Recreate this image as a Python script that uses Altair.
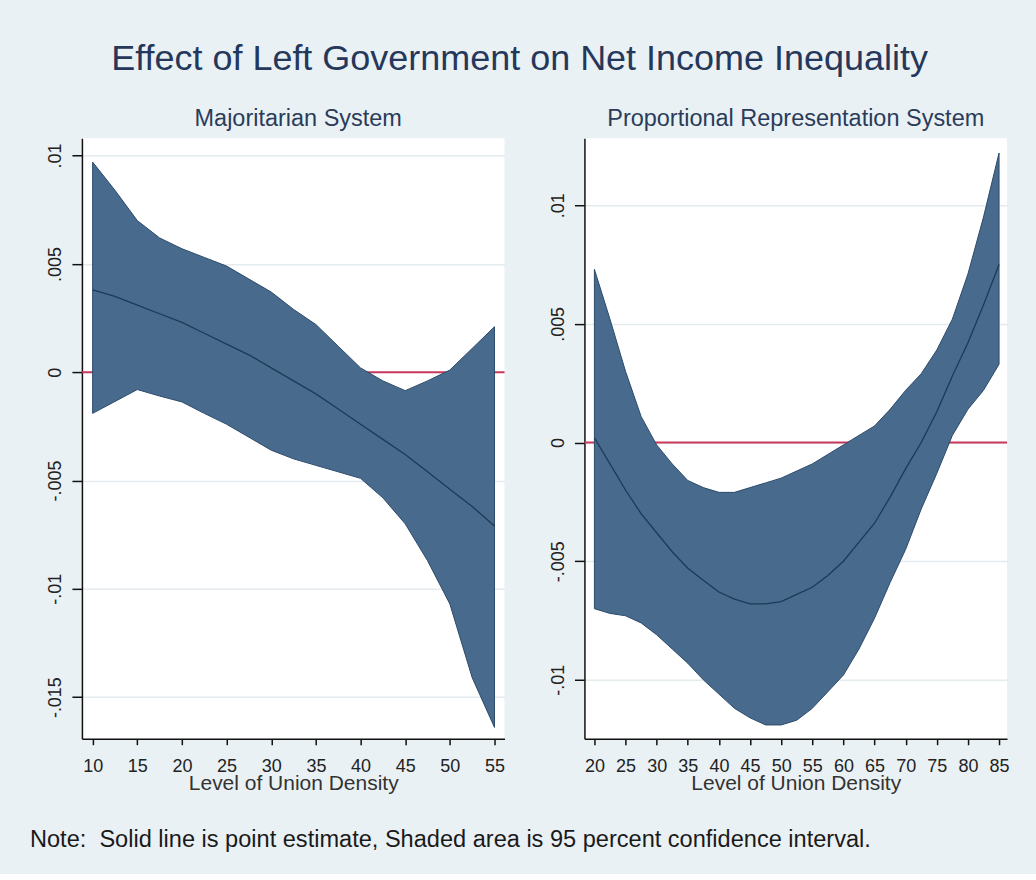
import altair as alt
import pandas as pd

# ---------------- data ----------------
maj_x = [10, 12.5, 15, 17.5, 20, 22.5, 25, 27.5, 30, 32.5, 35, 37.5, 40, 42.5, 45, 47.5, 50, 52.5, 55]
maj_upper = [0.0097, 0.0084, 0.0070, 0.0062, 0.0057, 0.0053, 0.0049, 0.0043, 0.0037, 0.0029,
             0.0022, 0.0012, 0.0002, -0.0004, -0.00085, -0.0004, 0.0001, 0.0011, 0.0021]
maj_lower = [-0.0019, -0.00135, -0.0008, -0.0011, -0.00137, -0.0019, -0.0024, -0.0030, -0.0036, -0.0040,
             -0.0043, -0.0046, -0.0049, -0.0058, -0.0070, -0.0087, -0.0107, -0.0141, -0.0164]
maj_est = [0.0038, 0.0035, 0.0031, 0.0027, 0.0023, 0.0018, 0.0013, 0.0008, 0.0002, -0.0004,
           -0.0010, -0.0017, -0.0024, -0.0031, -0.0038, -0.0046, -0.0054, -0.0062, -0.0071]

pr_x = [20, 22.5, 25, 27.5, 30, 32.5, 35, 37.5, 40, 42.5, 45, 47.5, 50, 52.5, 55, 57.5, 60,
        62.5, 65, 67.5, 70, 72.5, 75, 77.5, 80, 82.5, 85]
pr_upper = [0.0073, 0.0052, 0.0030, 0.0011, -0.0001, -0.0009, -0.0016, -0.0019, -0.0021, -0.0021,
            -0.0019, -0.0017, -0.0015, -0.0012, -0.0009, -0.0005, -0.0001, 0.0003, 0.0007, 0.0014,
            0.0022, 0.0029, 0.0039, 0.0052, 0.0071, 0.0095, 0.0122]
pr_lower = [-0.0070, -0.0072, -0.0073, -0.0076, -0.0081, -0.0087, -0.0093, -0.0100, -0.0106, -0.0112,
            -0.0116, -0.0119, -0.0119, -0.0117, -0.0112, -0.0105, -0.0098, -0.0087, -0.0074, -0.0059,
            -0.0045, -0.0028, -0.0013, 0.0003, 0.0014, 0.0022, 0.0033]
pr_est = [0.0002, -0.0009, -0.0020, -0.0030, -0.0038, -0.0046, -0.0053, -0.0058, -0.0063, -0.0066,
          -0.0068, -0.0068, -0.0067, -0.0064, -0.0061, -0.0056, -0.0050, -0.0042, -0.0034, -0.0023,
          -0.0011, 0.0000, 0.0013, 0.0028, 0.0042, 0.0058, 0.0075]

maj_xticks = [10, 15, 20, 25, 30, 35, 40, 45, 50, 55]
pr_xticks = [20, 25, 30, 35, 40, 45, 50, 55, 60, 65, 70, 75, 80, 85]
maj_yticks = [-0.015, -0.01, -0.005, 0, 0.005, 0.01]
pr_yticks = [-0.01, -0.005, 0, 0.005, 0.01]

main_title = "Effect of Left Government on Net Income Inequality"
panel_titles = ["Majoritarian System", "Proportional Representation System"]
x_title = "Level of Union Density"
note = "Note:\u00a0 Solid line is point estimate, Shaded area is 95 percent confidence interval."

SANS = "Liberation Sans"
BAND = "#486a8c"
BAND_EDGE = "#2c4a6a"
EST = "#1d3a58"
RED = "#c83a5c"
W, H = 423, 601

ylabel = ("datum.value == 0 ? '0' : (datum.value < 0 ? '-' : '') + "
          "replace(format(abs(datum.value), '~g'), '0.', '.')")


def panel(xs, est, lo, hi, xdom, ydom, xticks, yticks, title, dx, with_note):
    df = pd.DataFrame({"x": xs, "est": est, "lo": lo, "hi": hi})
    xs_ = alt.Scale(domain=xdom, nice=False, zero=False)
    ys_ = alt.Scale(domain=ydom, nice=False, zero=False)
    xaxis = alt.Axis(values=xticks, title=x_title, grid=False, tickSize=6, tickWidth=1.5,
                     domainWidth=1.5, domainColor="#111", tickColor="#111",
                     labelFont=SANS, labelFontSize=18, labelColor="#222", labelPadding=13,
                     labelOverlap=False, labelFlush=False,
                     titleFont=SANS, titleFontSize=21, titleFontWeight="normal",
                     titleColor="#333", titlePadding=-3)
    yaxis = alt.Axis(values=yticks, title=None, grid=True, gridColor="#e3ebee", gridWidth=1.5,
                     tickSize=10, tickWidth=1.5, domainWidth=1.5, domainColor="#111",
                     tickColor="#111", labelFont=SANS, labelFontSize=18, labelColor="#222",
                     labelAngle=270, labelAlign="center", labelBaseline="bottom",
                     labelPadding=7, labelExpr=ylabel, labelOverlap=False)
    base = alt.Chart(df)
    zero = alt.Chart(pd.DataFrame({"z": [0]})).mark_rule(color=RED, strokeWidth=2).encode(
        y=alt.Y("z:Q", scale=ys_, axis=yaxis)
    )
    band = base.mark_area(color=BAND, opacity=1, stroke=BAND_EDGE, strokeWidth=1).encode(
        x=alt.X("x:Q", scale=xs_, axis=xaxis),
        y=alt.Y("lo:Q", scale=ys_, axis=yaxis),
        y2="hi:Q",
    )
    line = base.mark_line(color=EST, strokeWidth=1.3).encode(
        x=alt.X("x:Q", scale=xs_, axis=xaxis),
        y=alt.Y("est:Q", scale=ys_, axis=yaxis),
    )
    layers = [zero, band, line]
    if with_note:
        layers.append(
            alt.Chart(pd.DataFrame({"t": [note]})).mark_text(
                align="left", baseline="middle", font=SANS, fontSize=23.6, color="#1a1a1a"
            ).encode(x=alt.value(-52), y=alt.value(702), text="t:N")
        )
    return alt.layer(*layers).properties(
        width=W, height=H,
        title=alt.TitleParams(title, font=SANS, fontSize=23.5, fontWeight="normal",
                              color="#2a3c5a", anchor="middle", offset=8, dx=dx),
    )


left = panel(maj_x, maj_est, maj_lower, maj_upper, [8.8, 56.12], [-0.01692, 0.0108],
             maj_xticks, maj_yticks, panel_titles[0], 5, True)
right = panel(pr_x, pr_est, pr_lower, pr_upper, [18.4, 86.28], [-0.01248, 0.01282],
              pr_xticks, pr_yticks, panel_titles[1], 0, False)

chart = alt.hconcat(left, right, spacing=80, bounds="flush").properties(
    title=alt.TitleParams(main_title, font=SANS, fontSize=36, fontWeight="normal",
                          color="#25375a", anchor="middle", offset=29)
).resolve_scale(x="independent", y="independent").configure(
    background="#eaf1f4",
    padding={"left": 30, "top": 40, "right": 26, "bottom": 22},
).configure_view(fill="white", strokeWidth=0)

chart.save("out.html", embed_options={"renderer": "svg", "actions": False})
